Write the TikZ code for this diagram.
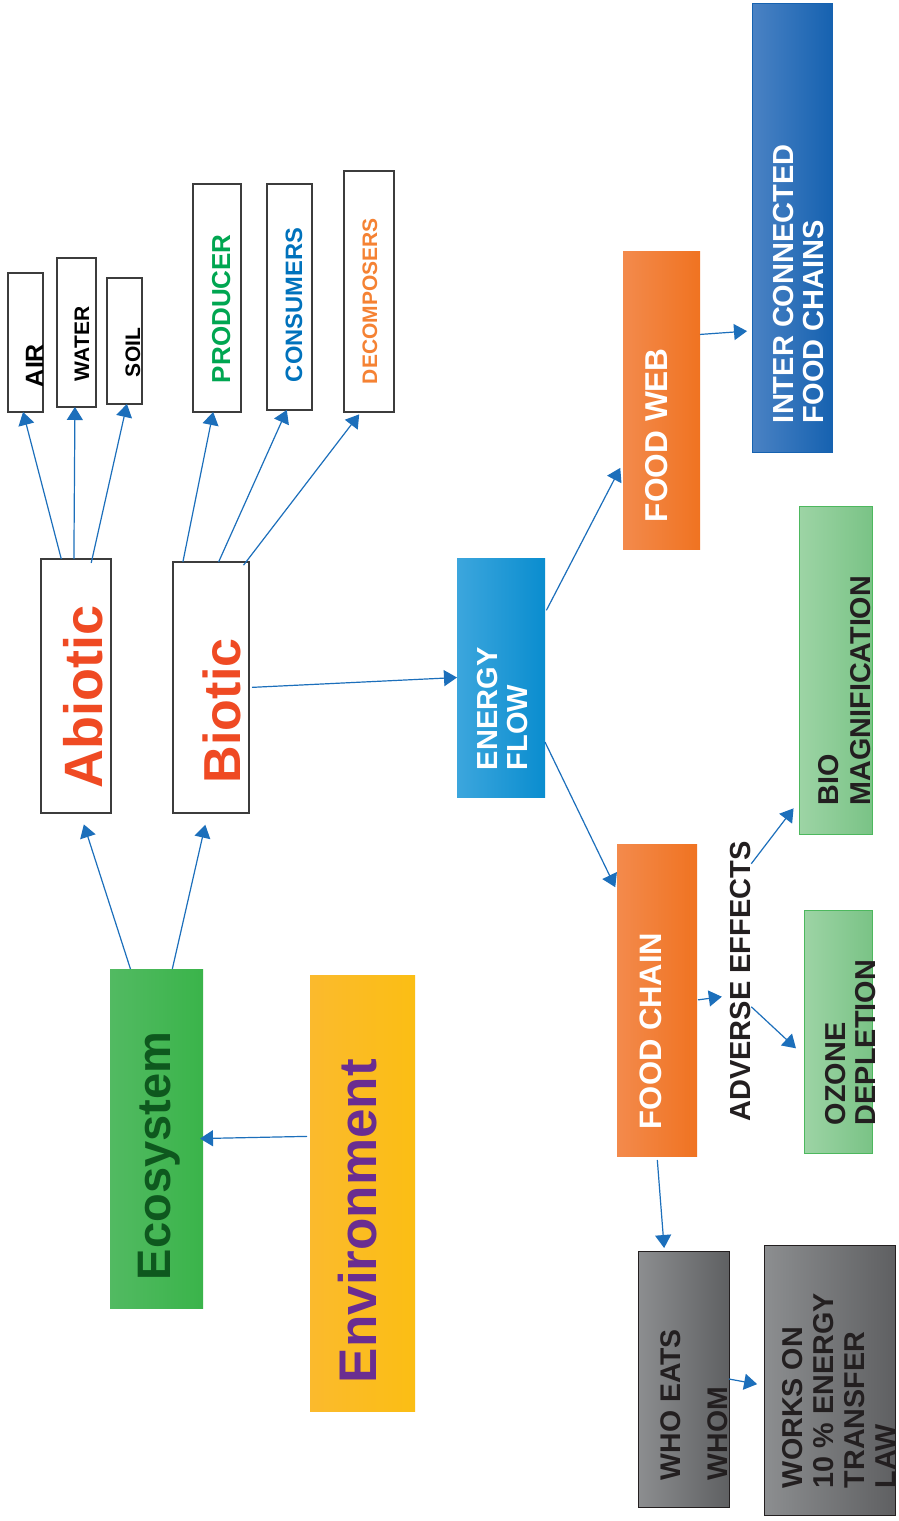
\documentclass[tikz,border=0pt]{standalone}
\usepackage{fontspec}
\setmainfont{Liberation Sans}
\usetikzlibrary{arrows.meta,calc,positioning}
\definecolor{boxgray}{RGB}{60,60,60}
\definecolor{linkblue}{RGB}{28,111,187}
\definecolor{redtxt}{RGB}{239,74,35}
\definecolor{ecotxt}{RGB}{14,88,30}
\definecolor{envtxt}{RGB}{106,45,145}
\definecolor{prodgreen}{RGB}{0,166,81}
\definecolor{consblue}{RGB}{0,114,188}
\definecolor{decorange}{RGB}{245,130,51}
\definecolor{darktxt}{RGB}{35,31,32}
\definecolor{ecoL}{RGB}{82,186,98}
\definecolor{ecoR}{RGB}{58,180,74}
\definecolor{envL}{RGB}{251,186,45}
\definecolor{envR}{RGB}{251,190,20}
\definecolor{flowL}{RGB}{60,166,221}
\definecolor{flowR}{RGB}{10,141,207}
\definecolor{orgL}{RGB}{243,138,76}
\definecolor{orgR}{RGB}{240,115,33}
\definecolor{interL}{RGB}{74,130,196}
\definecolor{interR}{RGB}{22,98,176}
\definecolor{mintL}{RGB}{157,212,165}
\definecolor{mintR}{RGB}{122,195,134}
\definecolor{mintD}{RGB}{77,184,94}
\definecolor{grayL}{RGB}{140,142,144}
\definecolor{grayR}{RGB}{95,96,98}
\newcommand{\sz}[2]{\fontsize{#1}{#2}\selectfont}
\newcommand{\vtext}[4]{\rotatebox{90}{\makebox[#1pt][l]{\hspace{#2pt}\raisebox{-#3pt}[0pt][0pt]{#4}}}}

\begin{document}
\begin{tikzpicture}[
    x=1pt, y=-1pt,
    every node/.style={font=\bfseries, inner sep=0pt, outer sep=0pt},
    wbox/.style={draw=boxgray, line width=1.5pt, fill=white},
    ecobox/.style={left color=ecoL, right color=ecoR},
    envbox/.style={left color=envL, right color=envR},
    flowbox/.style={left color=flowL, right color=flowR, text=white},
    orgbox/.style={left color=orgL, right color=orgR, text=white},
    interbox/.style={left color=interL, right color=interR, draw=interR, text=white},
    mintbox/.style={left color=mintL, right color=mintR, draw=mintD, line width=1pt, text=darktxt},
    graybox/.style={left color=grayL, right color=grayR, draw=darktxt, line width=1pt, text=darktxt},
    link/.style={draw=linkblue, line width=1.2pt, -{Triangle[length=13pt,width=16pt]}}
]
    \path[fill=white] (0,0) rectangle (899,1521);
    \useasboundingbox (0,0) rectangle (899,1521);

    % Abiotic parts
    \node[wbox, minimum width=35pt, minimum height=139pt] (air) at (25.5,342.5)
        {\vtext{139}{25}{17.5}{\sz{25}{30}AIR}};
    \node[wbox, minimum width=39pt, minimum height=149pt] (water) at (76.5,332.5)
        {\vtext{149}{26}{12.5}{\sz{21}{25}WATER}};
    \node[wbox, minimum width=35pt, minimum height=126pt] (soil) at (124.5,341)
        {\vtext{126}{27}{15.5}{\sz{21}{25}SOIL}};

    % Biotic parts
    \node[wbox, text=prodgreen, minimum width=48pt, minimum height=228pt] (producer) at (217,298)
        {\vtext{228}{29}{13}{\sz{26}{30}PRODUCER}};
    \node[wbox, text=consblue, minimum width=45pt, minimum height=226pt] (consumers) at (289.5,297)
        {\vtext{226}{28}{12.5}{\sz{23.7}{28}CONSUMERS}};
    \node[wbox, text=decorange, minimum width=50pt, minimum height=241pt] (decomposers) at (369,291.5)
        {\vtext{241}{28}{8}{\sz{21}{25}DECOMPOSERS}};

    % Components
    \node[wbox, text=redtxt, minimum width=70pt, minimum height=254pt] (abiotic) at (76,686)
        {\vtext{254}{25}{26}{\sz{54}{60}Abiotic}};
    \node[wbox, text=redtxt, minimum width=76pt, minimum height=251pt] (biotic) at (211,687.5)
        {\vtext{251}{30}{29}{\sz{52}{60}Biotic}};

    % Ecosystem and environment
    \node[ecobox, text=ecotxt, minimum width=93pt, minimum height=339pt] (ecosystem) at (156.5,1138.5)
        {\vtext{339}{28}{14}{\sz{47}{55}Ecosystem}};
    \node[envbox, text=envtxt, minimum width=105pt, minimum height=436pt] (environment) at (362.5,1193)
        {\vtext{436}{28}{13.5}{\sz{53}{60}Environment}};

    % Energy flow
    \node[flowbox, minimum width=88pt, minimum height=239pt] (energy) at (501,677.5)
        {\vtext{239}{27}{26}{\sz{29}{30}\begin{tabular}[b]{@{}l@{}}ENERGY\\FLOW\end{tabular}}};
    \node[orgbox, minimum width=77pt, minimum height=298pt] (foodweb) at (661.5,400)
        {\vtext{298}{27}{5.5}{\sz{31.6}{36}FOOD WEB}};
    \node[interbox, minimum width=80pt, minimum height=449pt] (inter) at (792,227.5)
        {\vtext{449}{29}{31}{\sz{29}{30}\begin{tabular}[b]{@{}l@{}}INTER CONNECTED\\FOOD CHAINS\end{tabular}}};
    \node[orgbox, minimum width=80pt, minimum height=312pt] (foodchain) at (657,1000)
        {\vtext{312}{27}{4}{\sz{31}{36}FOOD CHAIN}};

    % Adverse effects
    \node[text=darktxt] (adverse) at (741,981.5) {\rotatebox{90}{\sz{29}{34}ADVERSE EFFECTS}};
    \node[mintbox, minimum width=73pt, minimum height=328pt] (bio) at (835.5,670)
        {\vtext{328}{29}{34.5}{\sz{28.7}{32}\begin{tabular}[b]{@{}l@{}}BIO\\MAGNIFICATION\end{tabular}}};
    \node[mintbox, minimum width=68pt, minimum height=243pt] (ozone) at (838,1031.5)
        {\vtext{243}{28}{37}{\sz{28.8}{30}\begin{tabular}[b]{@{}l@{}}OZONE\\DEPLETION\end{tabular}}};

    % Who eats whom
    \node[graybox, minimum width=91pt, minimum height=256pt] (whoeats) at (683.5,1379)
        {\vtext{256}{27}{43.5}{\sz{28.4}{47}\begin{tabular}[b]{@{}l@{}}WHO EATS\\WHOM\end{tabular}}};
    \node[graybox, minimum width=131pt, minimum height=270pt] (works) at (829.5,1380)
        {\vtext{270}{27}{65.5}{\sz{28.7}{31}\begin{tabular}[b]{@{}l@{}}WORKS ON\\10 \% ENERGY\\TRANSFER\\LAW\end{tabular}}};

    % Edges
    \draw[link] ($(abiotic.north west)!0.29!(abiotic.north east)$) -- ($(air.south west)!0.43!(air.south east)$);
    \draw[link] ($(abiotic.north west)!0.47!(abiotic.north east)$) -- ($(water.south west)!0.46!(water.south east)$);
    \draw[link, shorten <=-4pt] ($(abiotic.north west)!0.73!(abiotic.north east)$) -- ($(soil.south west)!0.57!(soil.south east)$);
    \draw[link] ($(biotic.north west)!0.13!(biotic.north east)$) -- ($(producer.south west)!0.42!(producer.south east)$);
    \draw[link] ($(biotic.north west)!0.6!(biotic.north east)$) -- ($(consumers.south west)!0.44!(consumers.south east)$);
    \draw[link, shorten <=-4pt, shorten >=3pt] ($(biotic.north west)!0.96!(biotic.north east)$) -- ($(decomposers.south west)!0.34!(decomposers.south east)$);
    \draw[link, shorten >=12pt] ($(ecosystem.north west)!0.22!(ecosystem.north east)$) -- ($(abiotic.south west)!0.56!(abiotic.south east)$);
    \draw[link, shorten >=12pt] ($(ecosystem.north west)!0.67!(ecosystem.north east)$) -- ($(biotic.south west)!0.46!(biotic.south east)$);
    \draw[link, shorten <=3pt, shorten >=-3pt] ($(environment.north west)!0.37!(environment.south west)$) -- (ecosystem.east);
    \draw[link, shorten <=3pt] (biotic.east) -- (energy.west);
    \draw[link, shorten <=3pt, shorten >=6pt] ($(energy.north east)!0.23!(energy.south east)$) -- ($(foodweb.north west)!0.71!(foodweb.south west)$);
    \draw[link, shorten >=4pt] ($(energy.north east)!0.77!(energy.south east)$) -- ($(foodchain.north west)!0.15!(foodchain.south west)$);
    \draw[link, shorten >=5pt] ($(foodweb.north east)!0.28!(foodweb.south east)$) -- ($(inter.north west)!0.73!(inter.south west)$);
    \draw[link, shorten <=1pt, shorten >=9pt] (foodchain.east) -- ($(adverse.north west)!0.55!(adverse.south west)$);
    \draw[link, shorten >=9pt] ($(adverse.north east)!0.08!(adverse.south east)$) -- ($(bio.north west)!0.9!(bio.south west)$);
    \draw[link, shorten >=11pt] ($(adverse.north east)!0.59!(adverse.south east)$) -- ($(ozone.north west)!0.6!(ozone.south west)$);
    \draw[link, shorten <=4pt, shorten >=3pt] (foodchain.south) -- ($(whoeats.north west)!0.29!(whoeats.north east)$);
    \draw[link, shorten >=7pt] (whoeats.east) -- ($(works.north west)!0.52!(works.south west)$);
\end{tikzpicture}
\end{document}
